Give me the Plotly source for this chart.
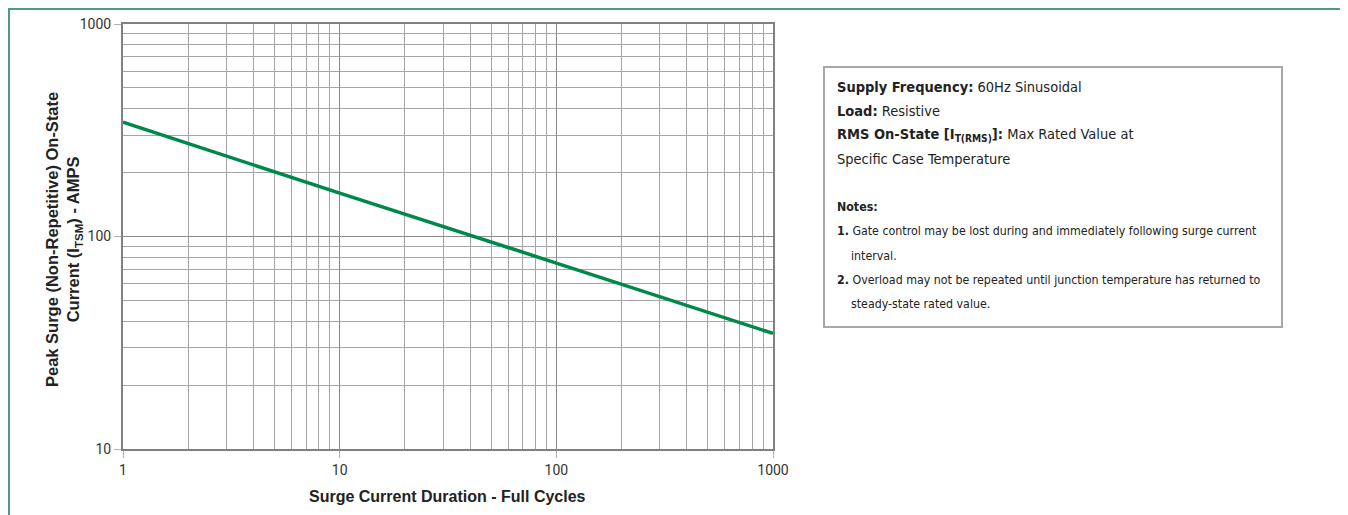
import plotly.graph_objects as go

# Data
cycles = [1, 10, 100, 1000]
itsm = [345, 160, 75, 35]

x_major = [1, 10, 100, 1000]
x_major_text = ["1", "10", "100", "1000"]
y_major = [10, 100, 1000]
y_major_text = ["10", "100", "1000"]
x_minor = [m * d for d in (1, 10, 100) for m in range(2, 10)]
y_minor = [m * d for d in (10, 100) for m in range(2, 10)]

x_title = "<b>Surge Current Duration - Full Cycles</b>"
y_title = ("<b>Peak Surge (Non-Repetitive) On-State</b><br>"
           "<b>Current (I<sub>TSM</sub>) - AMPS</b>")

box_lines = [
    "<b>Supply Frequency:</b> 60Hz Sinusoidal",
    "<b>Load:</b> Resistive",
    "<b>RMS On-State [I<sub>T(RMS)</sub>]:</b> Max Rated Value at",
    "Specific Case Temperature",
]
note_lines = [
    "<b>Notes:</b>",
    "<b>1.</b> Gate control may be lost during and immediately following surge current",
    "    interval.",
    "<b>2.</b> Overload may not be repeated until junction temperature has returned to",
    "    steady-state rated value.",
]

OFF = 8  # page body margin
W, H = 1340, 507
L, R, T, B = 115, 575, 16, 66
pw, ph = W - L - R, H - T - B


def px(x):  # screen pixel -> paper
    return (x - OFF - L) / pw


def py(y):
    return (H - B - (y - OFF)) / ph


fig = go.Figure()
fig.add_trace(go.Scatter(x=cycles, y=itsm, mode="lines",
                         line=dict(color="#00874a", width=3.5),
                         showlegend=False, hoverinfo="skip"))

axis_common = dict(
    type="log",
    showline=True, linecolor="#808080", linewidth=2, mirror=True,
    showgrid=True, gridcolor="#8a8a8a", gridwidth=1,
    ticks="outside", tickcolor="#b0b0b0", ticklen=7, tickwidth=1,
    tickfont=dict(family="Roboto, Liberation Sans, Arial", size=14, color="#333333"),
    zeroline=False,
)

fig.update_xaxes(
    **axis_common,
    range=[0, 3],
    tickmode="array", tickvals=x_major, ticktext=x_major_text,
    minor=dict(tickmode="array", tickvals=x_minor, showgrid=True,
               gridcolor="#a5a5a5", gridwidth=1, ticklen=0),
)
fig.update_yaxes(
    **axis_common,
    range=[1, 3],
    tickmode="array", tickvals=y_major, ticktext=y_major_text,
    minor=dict(tickmode="array", tickvals=y_minor, showgrid=True,
               gridcolor="#a5a5a5", gridwidth=1, ticklen=0),
)

shapes = [
    # outer green frame
    dict(type="rect", xref="paper", yref="paper",
         x0=px(OFF + 1), x1=px(1347), y0=py(530), y1=py(OFF + 1),
         line=dict(color="#4a9e7e", width=2), fillcolor="rgba(0,0,0,0)", layer="above"),
    # notes box
    dict(type="rect", xref="paper", yref="paper",
         x0=px(824), x1=px(1282), y0=py(327), y1=py(67),
         line=dict(color="#a8a8a8", width=2), fillcolor="rgba(0,0,0,0)"),
]

title_font = dict(family="Liberation Sans, Arial", size=16, color="#222222")
annotations = [
    dict(text=x_title, xref="paper", yref="paper", x=px(447), y=py(496),
         xanchor="center", yanchor="middle", showarrow=False, font=title_font),
    dict(text=y_title, xref="paper", yref="paper", x=px(64), y=py(240),
         textangle=-90, xanchor="center", yanchor="middle", showarrow=False,
         font=dict(family="Liberation Sans, Arial", size=16.5, color="#222222")),
]

narrow = "Liberation Sans Narrow, DejaVu Sans Condensed, Arial Narrow, sans-serif"
for i, t in enumerate(box_lines):
    annotations.append(dict(text=t, xref="paper", yref="paper",
                            x=px(835), y=py(87 + 24 * i), xanchor="left", yanchor="middle",
                            showarrow=False,
                            font=dict(family=narrow, size=14.5, color="#222222")))
for i, t in enumerate(note_lines):
    xx = 835
    txt = t
    if t.startswith("    "):
        xx = 849
        txt = t.strip()
    annotations.append(dict(text=txt, xref="paper", yref="paper",
                            x=px(xx), y=py(207 + 24.3 * i), xanchor="left", yanchor="middle",
                            showarrow=False,
                            font=dict(family=narrow, size=12.3, color="#222222")))

fig.update_layout(
    width=W, height=H,
    margin=dict(l=L, r=R, t=T, b=B, autoexpand=False),
    paper_bgcolor="white", plot_bgcolor="white",
    shapes=shapes, annotations=annotations,
    showlegend=False,
)

fig.write_html("out.html")
